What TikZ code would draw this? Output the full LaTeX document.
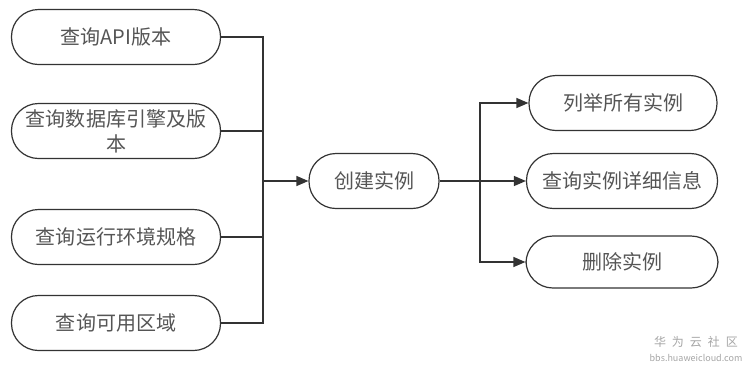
\documentclass[tikz,border=0pt]{standalone}
\usepackage{fontspec}
\setmainfont{Noto Sans CJK SC}
\usetikzlibrary{arrows.meta, positioning}
\definecolor{boxline}{HTML}{333333}
\definecolor{boxtext}{HTML}{555555}
\definecolor{markgray}{HTML}{A5A5A5}

\begin{document}
\begin{tikzpicture}[x=1bp, y=-1bp, font=\fontsize{20bp}{25bp}\selectfont,
  stepnode/.style={draw=boxline, line width=1.2bp, rounded corners=27bp, minimum height=55bp, text=boxtext, inner sep=0pt, align=center},
  link/.style={boxline, line width=1.3bp},
  flow/.style={link, -{Triangle[length=12bp,width=10bp]}}]
  \useasboundingbox (0,0) rectangle (750,370);

  % query steps
  \node[stepnode, minimum width=209bp] (api) at (116,37) {查询API版本};
  \node[stepnode, minimum width=209bp] (engine) at (116,131) {查询数据库引擎及版\\本};
  \node[stepnode, minimum width=209bp] (spec) at (116,237) {查询运行环境规格};
  \node[stepnode, minimum width=209bp] (zone) at (116,323) {查询可用区域};

  \node[stepnode, minimum width=130bp] (create) at (374,181) {创建实例};

  \node[stepnode, minimum width=188bp] (list) at (623,103) {列举所有实例};
  \node[stepnode, minimum width=191bp] (detail) at (622,181) {查询实例详细信息};
  \node[stepnode, minimum width=192bp, minimum height=52bp] (delete) at (622,262) {删除实例};

  \coordinate (lbus) at (263,181);
  \coordinate (rbus) at (480,181);

  \draw[link] (api.east) -| (lbus);
  \draw[link] (engine.east) -| (lbus);
  \draw[link] (spec.east) -| (lbus);
  \draw[link] (zone.east) -| (lbus);
  \draw[flow] (lbus) -- (create.west);

  \draw[link] (create.east) -- (rbus);
  \draw[flow] (rbus) |- (list.west);
  \draw[flow] (rbus) -- (detail.west);
  \draw[flow] (rbus) |- (delete.west);

  % watermark
  \node[markgray, font=\fontsize{12bp}{12bp}\selectfont] (mark) at (696,342) {华\hspace{6bp}为\hspace{6bp}云\hspace{6bp}社\hspace{6bp}区};
  \node[markgray, font=\fontsize{9bp}{9bp}\selectfont, below=0bp of mark] (site) {bbs.huaweicloud.com};
\end{tikzpicture}
\end{document}
